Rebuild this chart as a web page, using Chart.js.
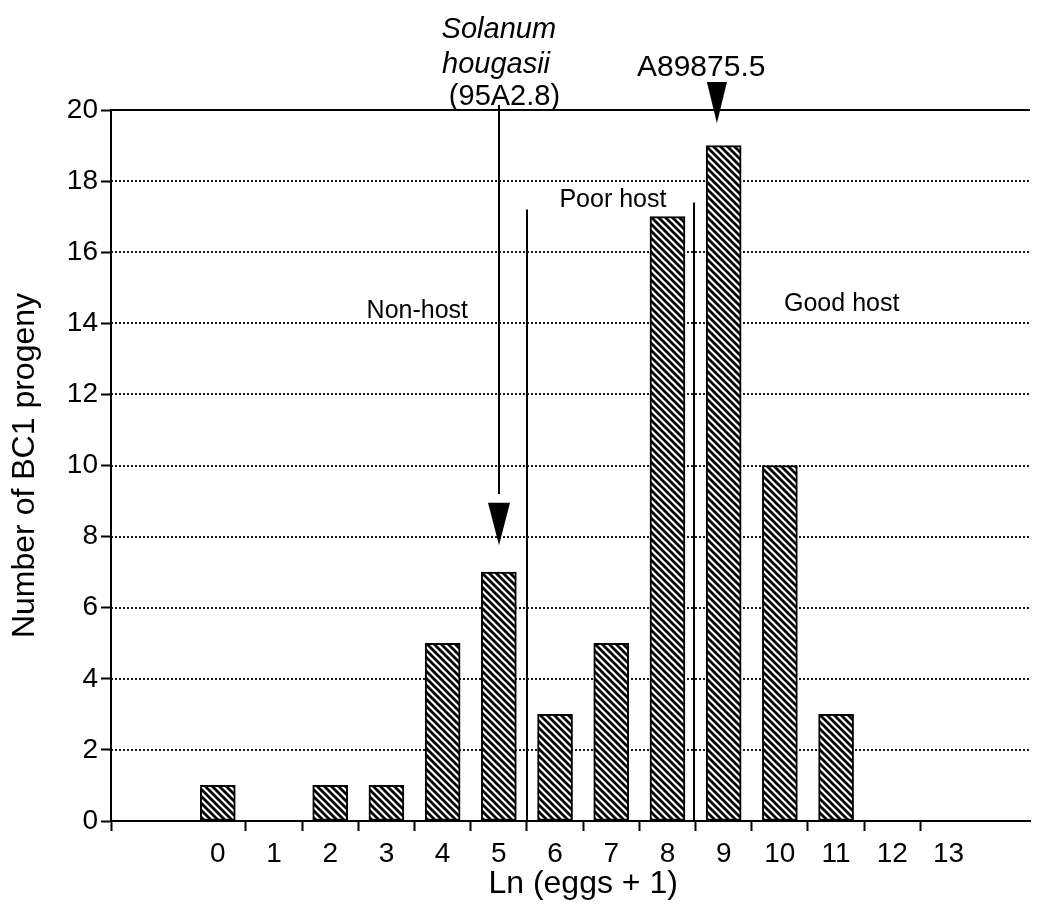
<!DOCTYPE html>
<html>
<head>
<meta charset="utf-8">
<script src="https://cdn.jsdelivr.net/npm/chart.js@4.4.1/dist/chart.umd.min.js"></script>
<style>
  html, body { margin: 0; padding: 0; background: #fff; }
</style>
</head>
<body>
<canvas id="chart" width="1045" height="907"></canvas>
<script>
// Ln(eggs + 1) classes and number of BC1 progeny in each
const categories = [0, 1, 2, 3, 4, 5, 6, 7, 8, 9, 10, 11, 12, 13];
const progenyCounts = [1, 0, 1, 1, 5, 7, 3, 5, 17, 19, 10, 3, 0, 0];
const yTicks = [0, 2, 4, 6, 8, 10, 12, 14, 16, 18, 20];

// class boundaries (x value, top of line as y value)
const boundaries = [
  { x: 5.5, top: 17.2 },
  { x: 8.47, top: 17.4 },
];

// text notes in data units
const notes = [
  { text: "Non-host", x: 3.55, y: 14.35, size: 25 },
  { text: "Poor host", x: 7.03, y: 17.47, size: 25 },
  { text: "Good host", x: 11.1, y: 14.54, size: 25 },
  { text: "Solanum", x: 5.0, y: 22.25, size: 29, italic: true },
  { text: "hougasii", x: 4.95, y: 21.27, size: 29, italic: true },
  { text: "(95A2.8)", x: 5.1, y: 20.37, size: 29 },
  { text: "A89875.5", x: 8.6, y: 21.18, size: 30 },
];

const FONT = "'Liberation Sans', Arial, Helvetica, sans-serif";

// diagonal hatch fill for the bars
function makeHatch() {
  const s = 7;
  const c = document.createElement("canvas");
  c.width = s;
  c.height = s;
  const g = c.getContext("2d");
  g.fillStyle = "#fff";
  g.fillRect(0, 0, s, s);
  g.strokeStyle = "#000";
  g.lineWidth = 2.8;
  g.beginPath();
  g.moveTo(-1, -1); g.lineTo(s + 1, s + 1);
  g.moveTo(-1, s - 1); g.lineTo(1, s + 1);
  g.moveTo(s - 1, -1); g.lineTo(s + 1, 1);
  g.stroke();
  return g.createPattern(c, "repeat");
}

const gridPlugin = {
  id: "dottedGrid",
  beforeDatasetsDraw(chart) {
    const { ctx, chartArea, scales: { y } } = chart;
    ctx.save();
    ctx.strokeStyle = "#000";
    yTicks.forEach((v) => {
      if (v === 0) return;
      const py = Math.round(y.getPixelForValue(v));
      ctx.beginPath();
      if (v === yTicks[yTicks.length - 1]) {
        ctx.lineWidth = 2;
        ctx.setLineDash([]);
      } else {
        ctx.lineWidth = 1.8;
        ctx.setLineDash([2, 2]);
      }
      ctx.moveTo(chartArea.left, py);
      ctx.lineTo(chartArea.right, py);
      ctx.stroke();
    });
    ctx.restore();
  },
};

function arrowHead(ctx, px, top, tip, half) {
  ctx.beginPath();
  ctx.moveTo(px - half, top);
  ctx.lineTo(px + half, top);
  ctx.lineTo(px, tip);
  ctx.closePath();
  ctx.fill();
}

const notesPlugin = {
  id: "notes",
  afterDraw(chart) {
    const { ctx, scales: { x, y } } = chart;
    ctx.save();
    ctx.strokeStyle = "#000";
    ctx.fillStyle = "#000";
    ctx.setLineDash([]);

    // vertical class boundaries
    ctx.lineWidth = 2;
    boundaries.forEach((b) => {
      const px = Math.round(x.getPixelForValue(b.x));
      ctx.beginPath();
      ctx.moveTo(px, y.getPixelForValue(b.top));
      ctx.lineTo(px, y.getPixelForValue(0));
      ctx.stroke();
    });

    // arrow to S. hougasii
    const ax = Math.round(x.getPixelForValue(5));
    ctx.lineWidth = 2;
    ctx.beginPath();
    ctx.moveTo(ax, y.getPixelForValue(20.14));
    ctx.lineTo(ax, y.getPixelForValue(9.2));
    ctx.stroke();
    arrowHead(ctx, ax, y.getPixelForValue(8.95), y.getPixelForValue(7.76), 11);

    // arrowhead for A89875.5
    arrowHead(ctx, x.getPixelForValue(8.88), y.getPixelForValue(20.79), y.getPixelForValue(19.63), 10);

    ctx.textAlign = "center";
    ctx.textBaseline = "middle";
    notes.forEach((n) => {
      ctx.font = (n.italic ? "italic " : "") + n.size + "px " + FONT;
      ctx.fillText(n.text, x.getPixelForValue(n.x), y.getPixelForValue(n.y));
    });

    // x axis title, a little right of the plot centre as in the original
    ctx.font = "32px " + FONT;
    ctx.fillText("Ln (eggs + 1)", x.getPixelForValue(6.5), 884);
    ctx.restore();
  },
};

const ctx = document.getElementById("chart").getContext("2d");
new Chart(ctx, {
  type: "bar",
  data: {
    datasets: [
      {
        data: categories.map((c, i) => ({ x: c, y: progenyCounts[i] })),
        backgroundColor: makeHatch(),
        borderColor: "#000",
        borderWidth: 2,
        borderSkipped: false,
        barThickness: 35,
      },
    ],
  },
  options: {
    responsive: false,
    animation: false,
    devicePixelRatio: 1,
    layout: { padding: { top: 110, right: 15, left: 0, bottom: 0 } },
    plugins: { legend: { display: false }, tooltip: { enabled: false } },
    scales: {
      x: {
        type: "linear",
        min: -1.9,
        max: 14.45,
        offset: false,
        afterBuildTicks: (scale) => {
          const vals = [scale.min];
          categories.forEach((c, i) => {
            vals.push(c);
            if (i < categories.length - 1) vals.push(c + 0.5);
          });
          scale.ticks = vals.map((v) => ({ value: v }));
        },
        afterFit: (scale) => { scale.height = 86; },
        ticks: {
          autoSkip: false,
          maxRotation: 0,
          padding: 6,
          color: "#000",
          font: { family: FONT, size: 28 },
          callback: (value) => (categories.includes(value) ? String(value) : ""),
        },
        grid: {
          offset: false,
          drawOnChartArea: false,
          drawTicks: true,
          tickLength: 10,
          tickWidth: 2,
          tickColor: (c) =>
            c.tick && categories.includes(c.tick.value) ? "rgba(0,0,0,0)" : "#000",
        },
        border: { display: true, color: "#000", width: 2 },
        title: { display: false },
      },
      y: {
        min: 0,
        max: 20,
        afterFit: (scale) => { scale.width = 111; },
        ticks: {
          stepSize: 2,
          padding: 3,
          color: "#000",
          font: { family: FONT, size: 28 },
        },
        grid: {
          drawOnChartArea: false,
          drawTicks: true,
          tickLength: 10,
          tickWidth: 2,
          tickColor: "#000",
        },
        border: { display: true, color: "#000", width: 2 },
        title: {
          display: true,
          text: "Number of BC1 progeny",
          color: "#000",
          padding: { top: 6, bottom: 0 },
          font: { family: FONT, size: 32 },
        },
      },
    },
  },
  plugins: [gridPlugin, notesPlugin],
});
</script>
</body>
</html>
